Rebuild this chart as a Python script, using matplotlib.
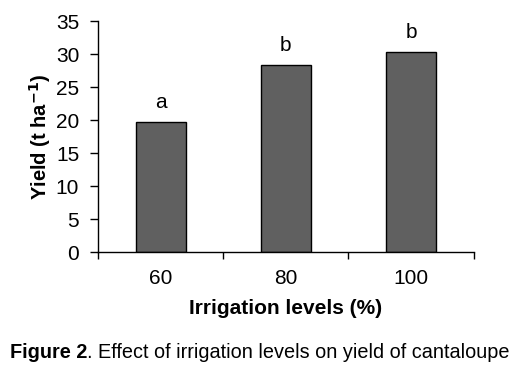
import numpy as np
import matplotlib.pyplot as plt

plt.rcParams['font.family'] = ['Liberation Sans', 'DejaVu Sans']

# data
levels = ['60', '80', '100']
yield_t = [19.7, 28.3, 30.3]
letters = ['a', 'b', 'b']

fig = plt.figure(figsize=(5.24, 3.76), dpi=100)
ax = fig.add_axes([0.187, 0.329, 0.717, 0.615])

x = np.arange(len(levels))
ax.bar(x, yield_t, width=0.4, color='#606060', edgecolor='black', linewidth=1)

for xi, v, s in zip(x, yield_t, letters):
    ax.text(xi, v + 2.2, s, ha='center', va='baseline', fontsize=15)

ax.set_xlim(-0.5, len(levels) - 0.5)
ax.set_ylim(0, 35)
ax.set_yticks(np.arange(0, 36, 5))

# tick marks between categories, labels at category centres
ax.set_xticks(np.arange(-0.5, len(levels), 1.0))
ax.set_xticklabels([])
ax.set_xticks(x, minor=True)
ax.set_xticklabels(levels, minor=True)
ax.tick_params(axis='x', which='major', length=5, width=1)
ax.tick_params(axis='x', which='minor', length=0, pad=12, labelsize=15)
ax.tick_params(axis='y', length=5.5, width=1, labelsize=15, pad=8)

for side in ['top', 'right']:
    ax.spines[side].set_visible(False)
for side in ['left', 'bottom']:
    ax.spines[side].set_linewidth(1)

ax.set_xlabel('Irrigation levels (%)', fontsize=15, fontweight='bold', labelpad=8)
ax.set_ylabel('Yield (t ha$^{\\mathbf{-1}}$)', fontsize=14.5, fontweight='bold', labelpad=2)

t = fig.text(0.019, 0.048, 'Figure 2', fontsize=14.3, fontweight='bold', va='baseline')
ax.annotate('. Effect of irrigation levels on yield of cantaloupe', xy=(1, 0),
            xycoords=t, fontsize=14.3, va='bottom', annotation_clip=False)

fig.savefig('out.png', dpi=100)
